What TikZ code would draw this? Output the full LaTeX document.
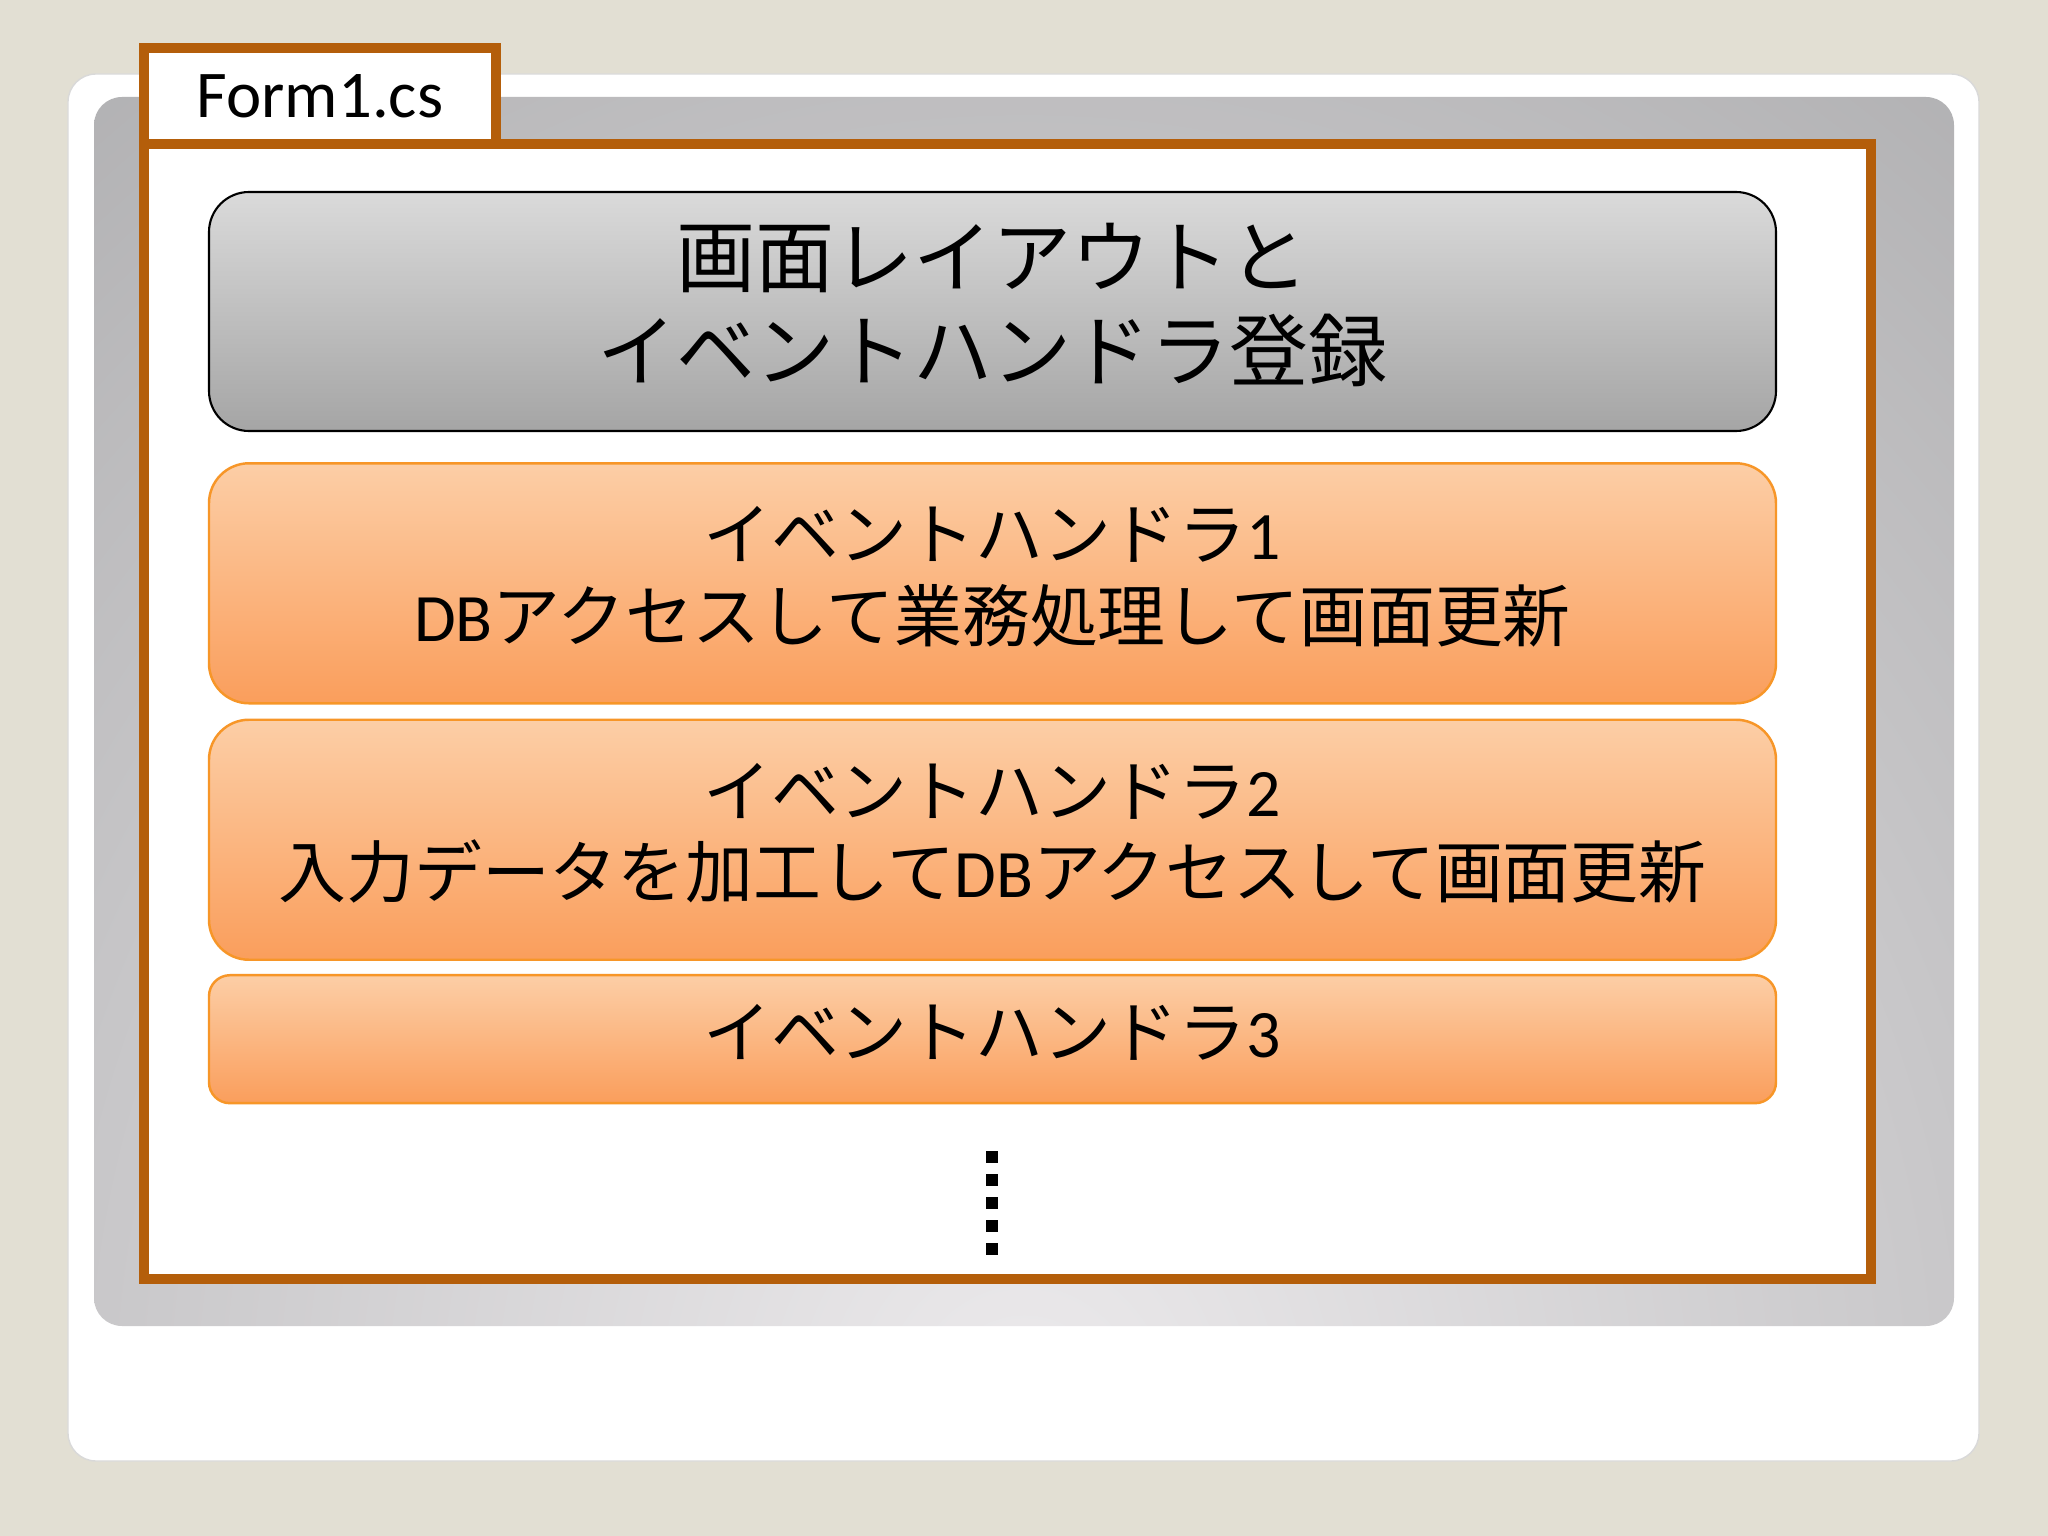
\documentclass[tikz,border=0pt]{standalone}
\usepackage{fontspec}
\setmainfont{Carlito}
\newfontfamily\jp{Noto Sans CJK JP}
\usetikzlibrary{positioning}

\definecolor{slidebg}{RGB}{226,223,211}
\definecolor{formedge}{RGB}{180,94,10}
\definecolor{handleredge}{RGB}{247,150,40}
\definecolor{handlertop}{RGB}{252,206,166}
\definecolor{handlerbot}{RGB}{250,158,92}
\definecolor{layouttop}{RGB}{218,218,218}
\definecolor{layoutbot}{RGB}{165,165,165}
\definecolor{framelight}{RGB}{236,234,236}
\definecolor{framedark}{RGB}{164,164,166}

\tikzset{
  formbox/.style={draw=formedge, line width=2.7pt, fill=white,
    minimum width=17.27cm, minimum height=11.35cm},
  formtab/.style={draw=formedge, line width=2.7pt, fill=white,
    minimum width=3.52cm, minimum height=0.96cm,
    font=\fontsize{19}{23}\selectfont},
  layoutbox/.style={draw=black, line width=0.6pt, rounded corners=0.4cm,
    top color=layouttop, bottom color=layoutbot,
    minimum width=15.67cm, minimum height=2.39cm},
  handlerbox/.style={draw=handleredge, line width=0.7pt, rounded corners=0.4cm,
    top color=handlertop, bottom color=handlerbot,
    minimum width=15.67cm, minimum height=2.4cm},
  layouttext/.style={align=center, font=\jp\fontsize{22.5}{27}\selectfont},
  handlertext/.style={align=center, font=\fontsize{19.3}{23.3}\selectfont},
  dotmark/.style={fill=black, minimum size=0.12cm, inner sep=0pt}
}

\begin{document}
\begin{tikzpicture}
  \useasboundingbox (0,0) rectangle (20.48,-15.36);
  \fill[slidebg] (0,0) rectangle (20.48,-15.36);
  % slide card
  \filldraw[fill=white, draw=black!15, rounded corners=0.28cm] (0.68,-0.74) rectangle (19.79,-14.61);
  \begin{scope}
    \clip[rounded corners=0.28cm] (0.94,-0.97) rectangle (19.54,-13.26);
    \shade[inner color=framelight, outer color=framedark] (-8.76,-35.2) rectangle (29.24,6.8);
  \end{scope}

  \node[formbox] (form) at (10.075,-7.115) {};
  \node[formtab] (tab) at (3.2,-0.96) {Form1.cs};

  \node[layoutbox] (layout) at (9.925,-3.115) {};
  \node[handlerbox, below=0.30cm of layout] (handler1) {};
  \node[handlerbox, below=0.14cm of handler1] (handler2) {};
  \node[handlerbox, below=0.13cm of handler2, minimum height=1.28cm, rounded corners=0.21cm] (handler3) {};

  \node[layouttext] (layoutlbl) at ([yshift=0.065cm]layout.center) {画面レイアウトと\\イベントハンドラ登録};
  \node[handlertext] (handler1lbl) at ([yshift=0.065cm]handler1.center)
    {{\jp イベントハンドラ}1\\DB{\jp アクセスして業務処理して画面更新}};
  \node[handlertext] (handler2lbl) at ([yshift=0.065cm]handler2.center)
    {{\jp イベントハンドラ}2\\{\jp 入力データを加工して}DB{\jp アクセスして画面更新}};
  \node[handlertext] (handler3lbl) at ([yshift=0.065cm]handler3.center) {{\jp イベントハンドラ}3};

  \foreach \i in {0,...,4}
    \node[dotmark] (dot\i) at (9.92,-11.57-0.23*\i) {};
\end{tikzpicture}
\end{document}
